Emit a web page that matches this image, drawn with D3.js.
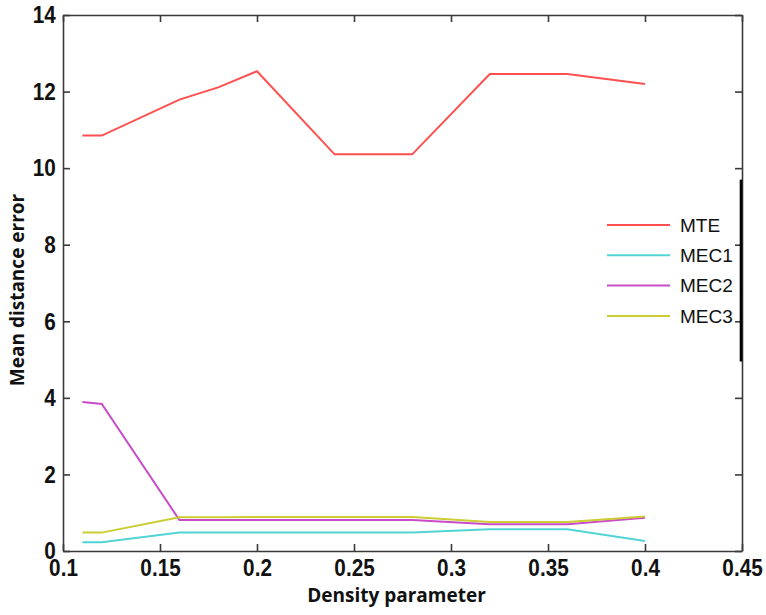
<!DOCTYPE html>
<html>
<head>
<meta charset="utf-8">
<script src="https://cdn.jsdelivr.net/npm/d3@7"></script>
<style>
  body { margin: 0; background: #fff; }
  svg { display: block; }
</style>
</head>
<body>
<svg id="chart" width="766" height="615"></svg>
<script>
// ---- data ----
const densities = [0.11, 0.12, 0.16, 0.18, 0.2, 0.24, 0.28, 0.32, 0.36, 0.4];
const mte  = [10.85, 10.85, 11.79, 12.11, 12.53, 10.36, 10.36, 12.46, 12.46, 12.2];
const mec1 = [0.23, 0.23, 0.48, 0.48, 0.48, 0.48, 0.48, 0.57, 0.57, 0.26];
const mec2 = [3.89, 3.84, 0.81, 0.81, 0.81, 0.81, 0.81, 0.70, 0.70, 0.87];
const mec3 = [0.48, 0.48, 0.88, 0.88, 0.89, 0.89, 0.89, 0.76, 0.76, 0.90];
const seriesNames = ["MTE", "MEC1", "MEC2", "MEC3"];
const seriesColors = ["#ff4f4f", "#52d4d4", "#c84cc8", "#cccc33"];
const xTicks = [0.1, 0.15, 0.2, 0.25, 0.3, 0.35, 0.4, 0.45];
const yTicks = [0, 2, 4, 6, 8, 10, 12, 14];
const xTitle = "Density parameter";
const yTitle = "Mean distance error";

const allSeries = [mte, mec1, mec2, mec3];

const svg = d3.select("#chart");
const L = 63, R = 742, T = 15, B = 551;

const x = d3.scaleLinear().domain([0.1, 0.45]).range([L, R]);
const y = d3.scaleLinear().domain([0, 14]).range([B, T]);

const frameColor = "#3a3a3a";
const tickFont = "'Liberation Sans', Arial, sans-serif";

// axes with inward ticks
const gx = svg.append("g").attr("transform", `translate(0,${B})`)
  .call(d3.axisBottom(x).tickValues(xTicks).tickSize(-7).tickSizeOuter(0)
    .tickFormat(d => String(d)).tickPadding(8));
const gxTop = svg.append("g").attr("transform", `translate(0,${T})`)
  .call(d3.axisTop(x).tickValues(xTicks).tickSize(-7).tickSizeOuter(0).tickFormat(""));
const gy = svg.append("g").attr("transform", `translate(${L},0)`)
  .call(d3.axisLeft(y).tickValues(yTicks).tickSize(-7).tickSizeOuter(0).tickPadding(8));
const gyR = svg.append("g").attr("transform", `translate(${R},0)`)
  .call(d3.axisRight(y).tickValues(yTicks).tickSize(-7).tickSizeOuter(0).tickFormat(""));

[gx, gxTop, gy, gyR].forEach(g => {
  g.select(".domain").attr("stroke", frameColor).attr("stroke-width", 1.6);
  g.selectAll(".tick line").attr("stroke", frameColor).attr("stroke-width", 1.6);
  g.selectAll(".tick text")
    .attr("fill", "#111")
    .style("font-family", tickFont)
    .style("font-weight", "bold")
    .style("font-size", "23px");
});
gx.selectAll(".tick text").attr("dy", "0.72em").attr("transform", "scale(0.9,1)");
gy.selectAll(".tick text").attr("dy", "0.34em").attr("transform", "scale(0.9,1)");

// stray thick segment on the right border (present in reference)
svg.append("line")
  .attr("x1", R - 1).attr("x2", R - 1)
  .attr("y1", y(9.7)).attr("y2", y(4.95))
  .attr("stroke", "#000").attr("stroke-width", 2.6);

// lines
const line = d3.line().x((d, i) => x(densities[i])).y(d => y(d));
svg.append("g").selectAll("path")
  .data(allSeries)
  .join("path")
  .attr("d", d => line(d))
  .attr("fill", "none")
  .attr("stroke", (d, i) => seriesColors[i])
  .attr("stroke-width", 2);

// legend
const leg = svg.append("g");
seriesNames.forEach((name, i) => {
  const yy = 225 + i * 30.3;
  leg.append("line").attr("x1", 607).attr("x2", 670).attr("y1", yy).attr("y2", yy)
    .attr("stroke", seriesColors[i]).attr("stroke-width", 2);
  leg.append("text").attr("x", 680).attr("y", yy).attr("dy", "0.36em")
    .style("font-family", tickFont).style("font-size", "19px").attr("fill", "#111")
    .text(name);
});

// titles
svg.append("text")
  .attr("x", (L + R) / 2 - 6).attr("y", 602)
  .attr("text-anchor", "middle")
  .style("font-family", "'Open Sans', sans-serif").style("font-weight", "bold")
  .style("font-size", "19px").attr("fill", "#111")
  .text(xTitle);
svg.append("text")
  .attr("transform", `translate(24,${(T + B) / 2 + 7}) rotate(-90)`)
  .attr("text-anchor", "middle")
  .style("font-family", "'Open Sans', sans-serif").style("font-weight", "bold")
  .style("font-size", "19px").attr("fill", "#111")
  .text(yTitle);
</script>
</body>
</html>
